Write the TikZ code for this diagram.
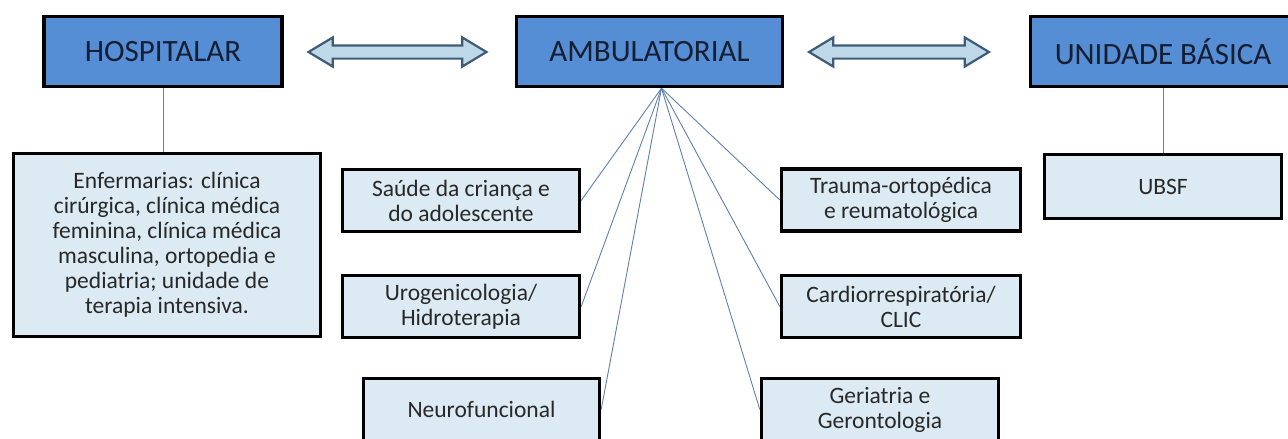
\documentclass[tikz,border=0pt]{standalone}
\usepackage{fontspec}
\setmainfont{Carlito}
\usetikzlibrary{shapes.arrows}

\definecolor{headblue}{RGB}{85,142,213}
\definecolor{paleblue}{RGB}{219,234,243}
\definecolor{arrowfill}{RGB}{190,216,232}
\definecolor{arrowline}{RGB}{62,92,122}
\definecolor{linkblue}{RGB}{95,128,175}
\definecolor{headtext}{RGB}{22,30,50}
\definecolor{bodytext}{RGB}{40,40,40}

\tikzset{
  sector/.style={draw=black, line width=3.4pt, fill=headblue, minimum height=70pt,
    inner sep=0pt, text=headtext, font=\fontsize{31}{36}\selectfont},
  unit/.style={draw=black, line width=3.4pt, fill=paleblue, minimum height=62pt,
    inner sep=0pt, align=center, text=bodytext, font=\fontsize{23.5}{25}\selectfont},
  twoway/.style={double arrow, draw=arrowline, line width=2.2pt, fill=arrowfill,
    double arrow head extend=8pt, double arrow tip angle=62, inner sep=0pt},
  link/.style={draw=linkblue, line width=0.9pt}
}

\begin{document}
\begin{tikzpicture}[x=1pt, y=-1pt]
\useasboundingbox (0,0) rectangle (1288,439);

%% sectors
\node[sector, minimum width=238pt] (hosp) at (163,51.5) {HOSPITALAR};
\node[sector, minimum width=266pt] (amb) at (649.5,51.5) {AMBULATORIAL};
\node[sector, minimum width=265pt] (unid) at (1163,51.5) {UNIDADE BÁSICA};

%% two-way arrows
\node[twoway, minimum height=178pt] (ha) at (397.5,52) {\rule{0pt}{11pt}};   %% hosp - amb
\node[twoway, minimum height=180pt] (au) at (899,52) {\rule{0pt}{11pt}};     %% amb - unid

%% hospital
\node[unit, minimum width=307pt, minimum height=183pt] (enf) at (167,245)
  {Enfermarias: clínica\\cirúrgica, clínica médica\\feminina, clínica médica\\masculina, ortopedia e\\pediatria; unidade de\\terapia intensiva.};

%% ambulatory, left
\node[unit, minimum width=237pt] (saude) at (461,200.5) {Saúde da criança e\\do adolescente};
\node[unit, minimum width=237pt] (uro) at (461,306.5) {Urogenicologia/\\Hidroterapia};
\node[unit, minimum width=236pt] (neuro) at (481.5,409.5) {Neurofuncional};

%% ambulatory, right
\node[unit, minimum width=239pt] (trauma) at (901,200) {Trauma-ortopédica\\e reumatológica};
\node[unit, minimum width=239pt] (cardio) at (901,306.5) {Cardiorrespiratória/\\CLIC};
\node[unit, minimum width=237pt] (geri) at (880,409.5) {Geriatria e\\Gerontologia};

%% basic unit
\node[unit, minimum width=237pt, minimum height=64pt] (ubsf) at (1163,186.5) {UBSF};

%% links
\coordinate (fan) at ([xshift=12pt]amb.south);
\draw[link] (hosp.south) -- (hosp.south |- enf.north);     %% hosp - enf
\draw[link] (unid.south) -- (unid.south |- ubsf.north);    %% unid - ubsf
\draw[link] (fan) -- (saude.east);
\draw[link] (fan) -- (uro.east);
\draw[link] (fan) -- (neuro.east);
\draw[link] (fan) -- (trauma.west);
\draw[link] (fan) -- (cardio.west);
\draw[link] (fan) -- (geri.west);
\end{tikzpicture}
\end{document}
